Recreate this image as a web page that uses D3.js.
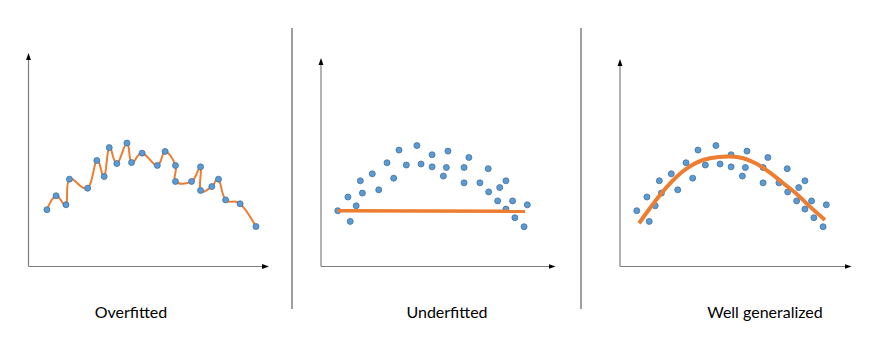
<!DOCTYPE html>
<html><head><meta charset="utf-8">
<script src="https://cdn.jsdelivr.net/npm/d3@7"></script>
<style>html,body{margin:0;padding:0;background:#fff;}svg{display:block;}</style>
</head><body>
<script>
// Data (arbitrary units, x 0..10, y 0..10)
const titles = ["Overfitted", "Underfitted", "Well generalized"];

const overX = [0.80,1.20,1.63,1.78,2.57,2.97,3.29,3.51,3.84,4.28,4.48,4.94,5.60,5.94,6.39,6.39,7.09,7.48,7.48,7.97,8.26,8.57,9.20,9.89];
const overY = [2.77,3.45,3.01,4.26,3.82,5.17,4.39,5.80,5.02,6.02,5.07,5.53,4.93,5.61,4.93,4.15,4.15,4.86,3.71,3.90,4.26,3.25,3.06,1.95];

const sampleX = [0.73,1.27,1.17,1.53,1.71,1.80,2.23,2.51,2.87,3.16,3.39,3.71,4.17,4.35,4.83,4.83,5.32,5.45,5.52,6.22,6.22,6.43,6.91,7.27,7.29,7.68,7.77,8.04,8.04,8.33,8.43,8.83,8.97];
const sampleY = [2.72,2.20,3.39,2.96,4.18,3.58,4.52,3.74,5.06,4.31,5.68,4.95,5.90,5.00,5.45,4.86,4.41,4.83,5.63,4.83,4.08,5.32,4.08,4.77,3.64,3.20,3.85,4.18,2.80,3.20,2.38,1.94,3.01];

const underFitX = [0.73, 8.87];
const underFitY = [2.72, 2.69];

const goodFitX = [0.83,1.30,1.74,2.25,2.75,3.33,3.91,4.78,5.36,5.94,6.52,7.10,7.68,8.26,8.91];
const goodFitY = [2.11,2.84,3.49,4.14,4.66,5.07,5.28,5.36,5.28,5.01,4.58,4.06,3.54,2.92,2.27];

const W = 875, H = 356;
const svg = d3.select("body").append("svg").attr("width", W).attr("height", H);

const defs = svg.append("defs");
defs.append("marker").attr("id","arr").attr("viewBox","0 0 10 10")
  .attr("refX",5).attr("refY",5).attr("markerWidth",7).attr("markerHeight",7)
  .attr("markerUnits","userSpaceOnUse").attr("orient","auto")
  .append("path").attr("d","M0,1.5 L10,5 L0,8.5 Z").attr("fill","#000");

const panels = [
  {ox: 28.5, oy: 266.5, xLen: 237, yLen: 210, pts: [overX, overY], fit: [overX, overY], fitW: 2, curve: d3.curveCardinal.tension(-0.2), tx: 131},
  {ox: 321, oy: 266.5, xLen: 231, yLen: 205, pts: [sampleX, sampleY], fit: [underFitX, underFitY], fitW: 3.5, curve: d3.curveLinear, tx: 447},
  {ox: 620, oy: 266.5, xLen: 228, yLen: 204, pts: [sampleX, sampleY], fit: [goodFitX, goodFitY], fitW: 4, curve: d3.curveCatmullRom.alpha(0.5), tx: 765}
];

panels.forEach((p, i) => {
  const g = svg.append("g");
  const x = d3.scaleLinear().domain([0, 10]).range([p.ox, p.ox + 230]);
  const y = d3.scaleLinear().domain([0, 10]).range([p.oy, p.oy - 205]);
  // axes
  g.append("line").attr("x1", p.ox).attr("y1", p.oy).attr("x2", p.ox).attr("y2", p.oy - p.yLen)
    .attr("stroke","#7f7f7f").attr("stroke-width",1.2).attr("marker-end","url(#arr)");
  g.append("line").attr("x1", p.ox).attr("y1", p.oy).attr("x2", p.ox + p.xLen).attr("y2", p.oy)
    .attr("stroke","#7f7f7f").attr("stroke-width",1.2).attr("marker-end","url(#arr)");

  const pts = d3.zip(p.pts[0], p.pts[1]);
  const fit = d3.zip(p.fit[0], p.fit[1]);
  const line = d3.line().x(d => x(d[0])).y(d => y(d[1])).curve(p.curve);

  const drawFit = () => g.append("path").attr("d", line(fit)).attr("fill","none")
      .attr("stroke","#ED7D31").attr("stroke-width", p.fitW).attr("stroke-linejoin","round");
  const drawPts = () => g.selectAll(null).data(pts).enter().append("circle")
      .attr("cx", d => x(d[0])).attr("cy", d => y(d[1])).attr("r", 3)
      .attr("fill","#5B9BD5").attr("stroke","#41719C").attr("stroke-width",0.8);

  if (i === 0) { drawFit(); drawPts(); } else { drawPts(); drawFit(); }

  svg.append("text").attr("x", p.tx).attr("y", 318).attr("text-anchor","middle")
    .attr("font-family","Lato, 'Open Sans', sans-serif").attr("font-size", 16).attr("fill","#000")
    .text(titles[i]);
});

// separators
[292, 581].forEach(sx => {
  svg.append("line").attr("x1", sx).attr("x2", sx).attr("y1", 28).attr("y2", 309)
    .attr("stroke","#7f7f7f").attr("stroke-width",1.5);
});
</script>
</body></html>
